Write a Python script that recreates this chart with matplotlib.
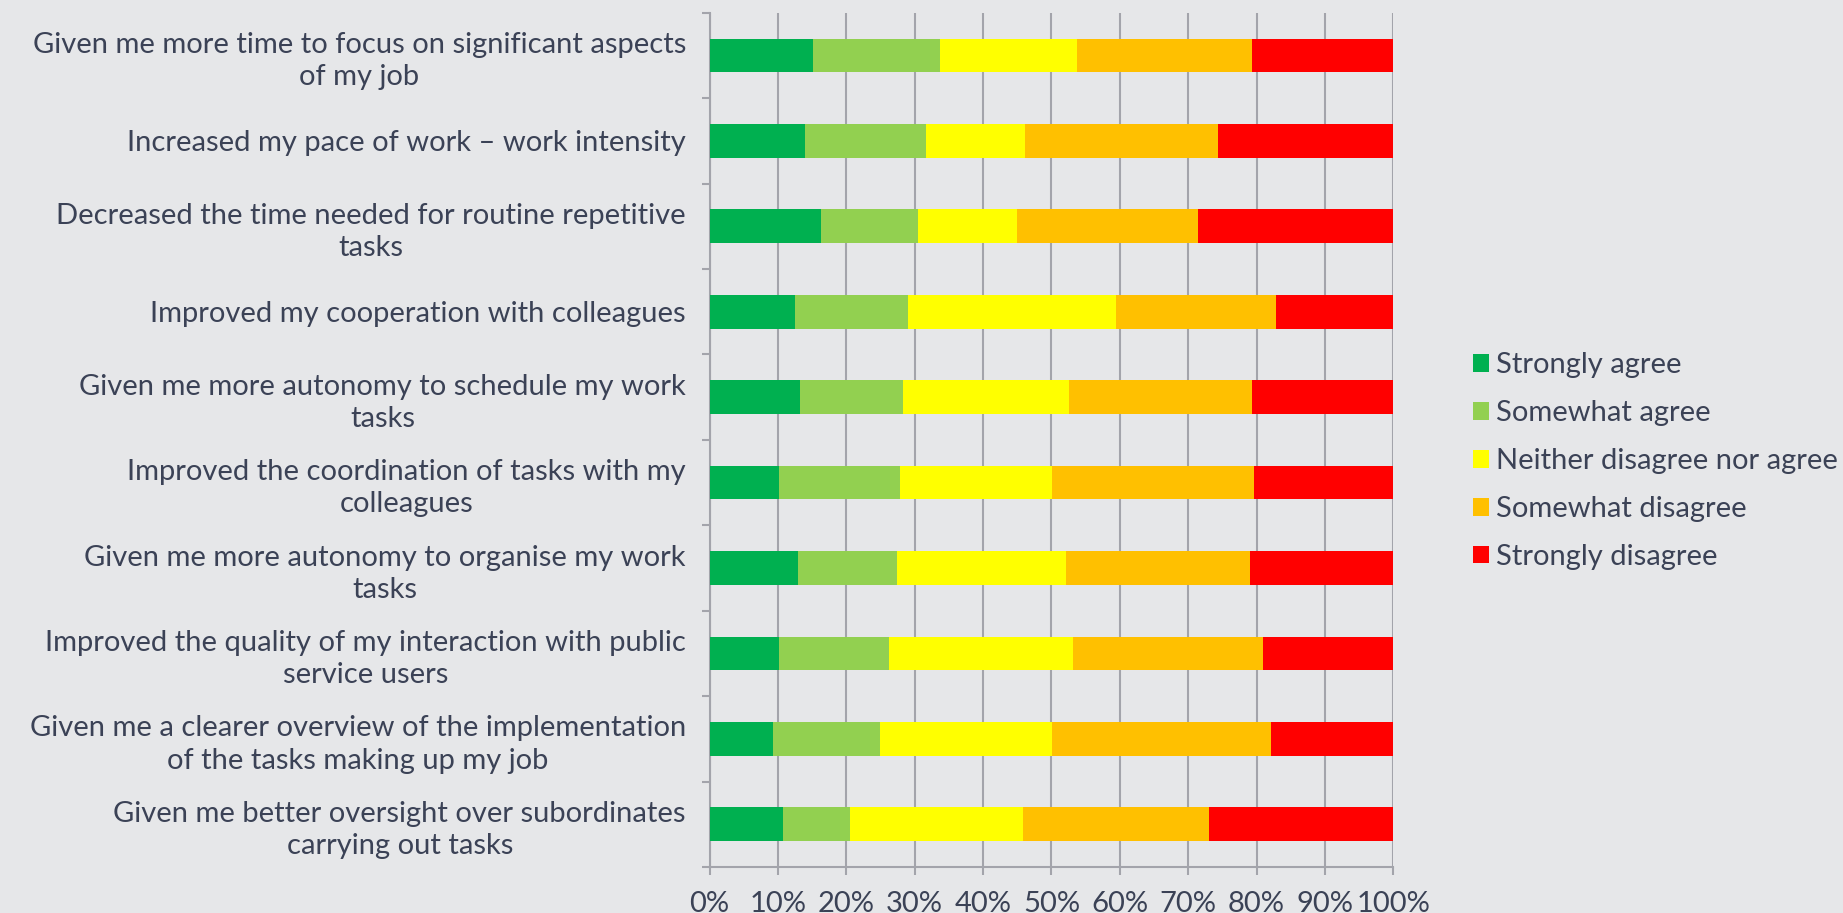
import numpy as np
import matplotlib.pyplot as plt
from matplotlib.ticker import FixedLocator, PercentFormatter

# Survey statements (top to bottom as in the chart)
statements = [
    "Given me more time to focus on significant aspects\nof my job",
    "Increased my pace of work \u2013 work intensity",
    "Decreased the time needed for routine repetitive\ntasks",
    "Improved my cooperation with colleagues",
    "Given me more autonomy to schedule my work\ntasks",
    "Improved the coordination of tasks with my\ncolleagues",
    "Given me more autonomy to organise my work\ntasks",
    "Improved the quality of my interaction with public\nservice users",
    "Given me a clearer overview of the implementation\nof the tasks making up my job",
    "Given me better oversight over subordinates\ncarrying out tasks",
]

responses = ["Strongly agree", "Somewhat agree", "Neither disagree nor agree",
             "Somewhat disagree", "Strongly disagree"]

# shares in %, one list per response category
strongly_agree = [15.1, 14.0, 16.3, 12.5, 13.3, 10.2, 13.0, 10.2, 9.3, 10.7]
somewhat_agree = [18.6, 17.7, 14.2, 16.5, 15.0, 17.6, 14.4, 16.0, 15.6, 9.9]
neither = [20.0, 14.5, 14.4, 30.5, 24.3, 22.3, 24.7, 26.9, 25.2, 25.3]
somewhat_disagree = [25.7, 28.1, 26.6, 23.4, 26.8, 29.5, 26.9, 27.9, 32.0, 27.1]
strongly_disagree = [20.6, 25.7, 28.5, 17.1, 20.6, 20.4, 21.0, 19.0, 17.9, 27.0]

colors = ["#00B050", "#92D050", "#FFFF00", "#FFC000", "#FF0000"]

bg = "#E6E7E9"
txt = "#3B4256"
grid_col = "#A3A4AB"
fs = 21

plt.rcParams['font.family'] = ['Lato', 'DejaVu Sans']

fig = plt.figure(figsize=(18.43, 9.13), dpi=100, facecolor=bg)
ax = fig.add_axes([0.385, 0.0504, 0.371, 0.9356], facecolor=bg)

series = [strongly_agree, somewhat_agree, neither, somewhat_disagree, strongly_disagree]
y = np.arange(len(statements))
left = np.zeros(len(statements))
for vals, name, c in zip(series, responses, colors):
    vals = np.array(vals)
    ax.barh(y, vals, left=left, height=0.395, color=c, label=name, zorder=3)
    left += vals

ax.set_xlim(0, 100)
ax.set_ylim(len(statements) - 0.5, -0.5)

ax.xaxis.set_major_locator(FixedLocator(np.arange(0, 101, 10)))
ax.xaxis.set_major_formatter(PercentFormatter(decimals=0))
ax.grid(axis='x', color=grid_col, linewidth=1.5, zorder=0)

ax.set_yticks(y)
ax.set_yticklabels(statements, ha='right', multialignment='center', linespacing=1.3)
ax.yaxis.set_minor_locator(FixedLocator(np.arange(-0.5, len(statements), 1)))
ax.tick_params(axis='y', which='major', length=0, pad=17, labelsize=fs, labelcolor=txt)
ax.tick_params(axis='y', which='minor', length=6, width=1.5, color=grid_col)
ax.tick_params(axis='x', length=6, width=1.5, color=grid_col, labelsize=fs,
               labelcolor=txt, pad=11)

for s in ['top', 'right']:
    ax.spines[s].set_visible(False)
for s in ['left', 'bottom']:
    ax.spines[s].set_color(grid_col)
    ax.spines[s].set_linewidth(1.5)

leg = ax.legend(loc='center left', bbox_to_anchor=(1.078, 0.475), frameon=False,
                fontsize=fs, labelcolor=txt, handlelength=0.55, handleheight=0.55,
                handletextpad=0.25, labelspacing=0.75)

fig.savefig("out.png", dpi=100, facecolor=bg)
